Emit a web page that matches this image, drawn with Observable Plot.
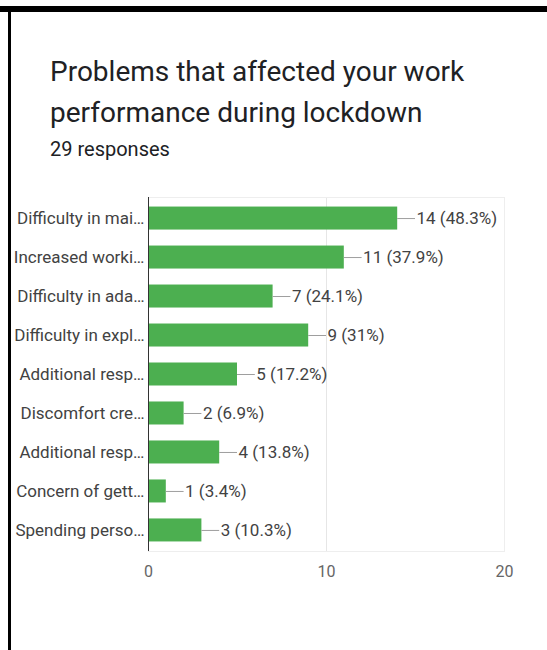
<!DOCTYPE html>
<html><head><meta charset="utf-8">
<script src="https://cdn.jsdelivr.net/npm/d3@7"></script>
<script src="https://cdn.jsdelivr.net/npm/@observablehq/plot@0.6"></script>
<style>
body{margin:0;background:#fff;font-family:Roboto,sans-serif;}
#page{position:relative;width:547px;height:650px;overflow:hidden;background:#fff}
.topbar{position:absolute;left:0;top:6px;width:547px;height:6px;background:#000}
.leftbar{position:absolute;left:8px;top:6px;width:3px;height:644px;background:#000}
#title{position:absolute;left:50px;top:51px;font-size:28px;line-height:41px;color:#202124;white-space:nowrap}
#sub{position:absolute;left:50px;top:137px;font-size:20px;line-height:24px;color:#202124}
#chart{position:absolute;left:0;top:180px}
</style></head>
<body>
<div id="page">
  <div class="topbar"></div>
  <div class="leftbar"></div>
  <div id="title">Problems that affected your work<br>performance during lockdown</div>
  <div id="sub">29 responses</div>
  <div id="chart"></div>
</div>
<script>
const labels = ["Difficulty in mai…", "Increased worki…", "Difficulty in ada…", "Difficulty in expl…", "Additional resp…", "Discomfort cre…", "Additional resp…", "Concern of gett…", "Spending perso…"];
const counts = [14, 11, 7, 9, 5, 2, 4, 1, 3];
const percents = ["48.3%", "37.9%", "24.1%", "31%", "17.2%", "6.9%", "13.8%", "3.4%", "10.3%"];
const xTicks = [0, 10, 20];

const data = labels.map((label, i) => ({id: i, label, count: counts[i], pct: percents[i]}));

const chart = Plot.plot({
  width: 547,
  height: 420,
  marginTop: 17,
  marginBottom: 49,
  marginLeft: 148,
  marginRight: 43,
  style: {fontFamily: "Roboto, sans-serif", fontSize: "17px", color: "#444", background: "transparent"},
  x: {domain: [0, 20]},
  y: {type: "band", domain: d3.range(labels.length), paddingInner: 0.41, paddingOuter: 0.245, round: false},
  marks: [
    Plot.gridX(xTicks.slice(1), {stroke: "#e6e6e6", strokeOpacity: 1}),
    Plot.frame({stroke: "#eeeeee"}),
    Plot.barX(data, {x: "count", y: "id", fill: "#4caf50"}),
    Plot.ruleY(data, {y: "id", x1: "count", x2: d => d.count + 1, stroke: "#9e9e9e", strokeWidth: 1}),
    Plot.text(data, {y: "id", x: d => d.count + 1, text: d => `${d.count} (${d.pct})`, textAnchor: "start", dx: 1, fill: "#424242", fontSize: 17}),
    Plot.ruleX([0], {stroke: "#333", strokeWidth: 1}),
    Plot.axisY({tickSize: 0, tickPadding: 4, tickFormat: i => labels[i], fill: "#424242", fontSize: 17, label: null}),
    Plot.axisX({ticks: xTicks, tickSize: 0, tickPadding: 14, fill: "#666", fontSize: 16, label: null})
  ]
});
document.getElementById("chart").appendChild(chart);
</script>
</body></html>
